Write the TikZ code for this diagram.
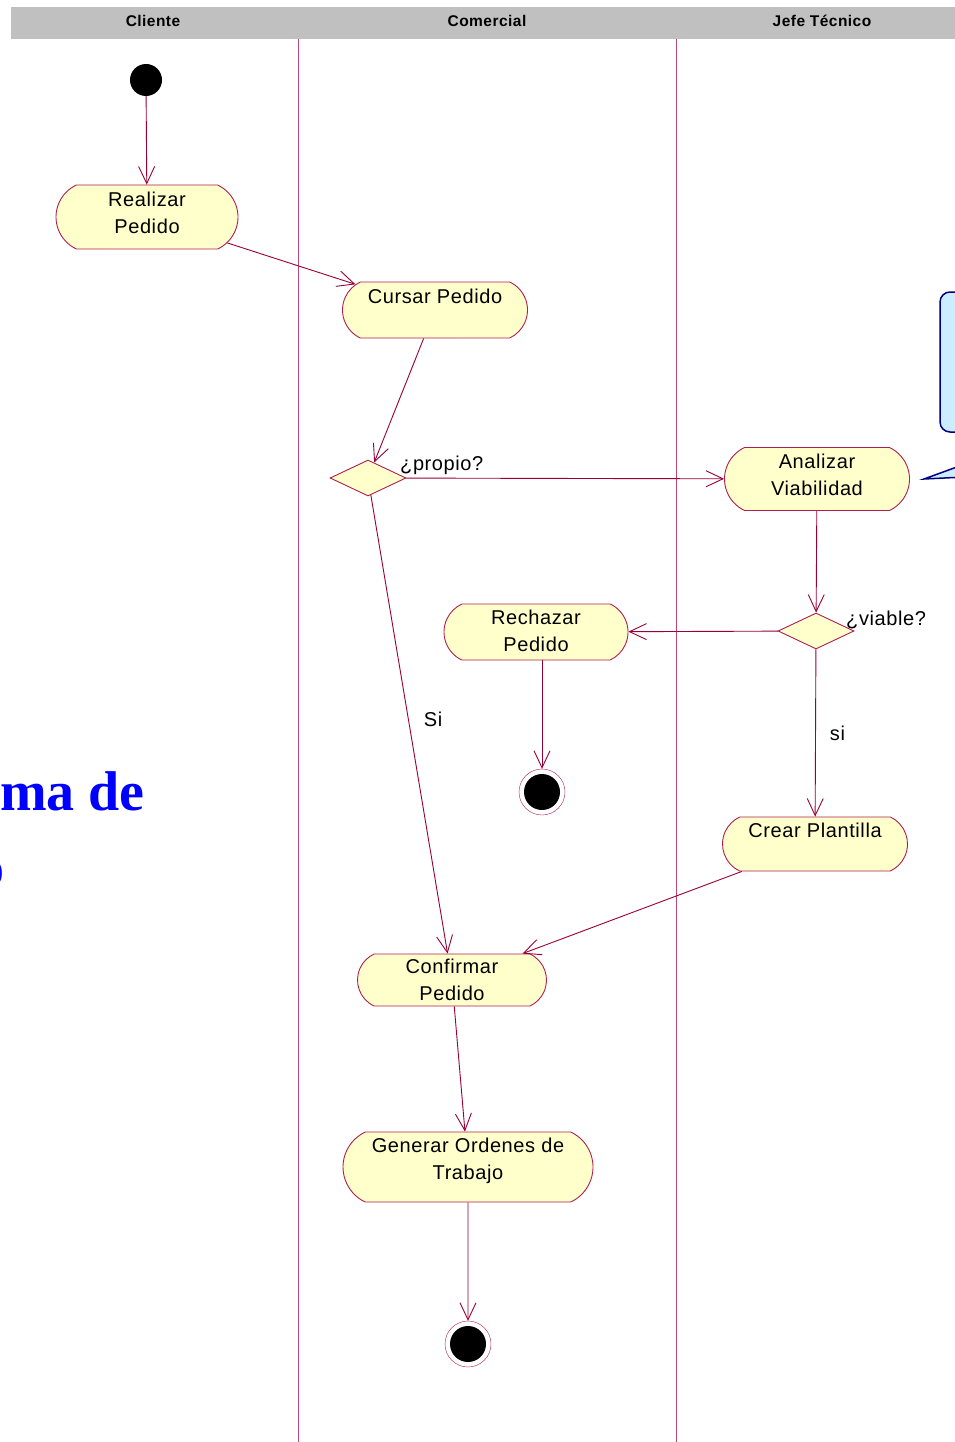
\documentclass[tikz,border=0pt]{standalone}
\usepackage{fontspec}
\setmainfont[LetterSpace=3]{Liberation Sans}
\newfontfamily\titlefont{Liberation Serif}
\usetikzlibrary{shapes.misc,shapes.geometric,arrows.meta}
\definecolor{rose}{RGB}{153,0,51}
\definecolor{actdraw}{RGB}{175,30,80}
\definecolor{lanecol}{RGB}{190,70,120}
\definecolor{actfill}{RGB}{255,255,204}
\definecolor{notefill}{RGB}{204,236,255}
\definecolor{notedraw}{RGB}{0,0,128}
\definecolor{headgray}{RGB}{192,192,192}

\begin{document}
\begin{tikzpicture}[x=1pt, y=-1pt,
  act/.style = {draw=actdraw, line width=0.9pt, fill=actfill, rounded rectangle, rounded rectangle arc length=130, inner sep=0pt, align=center, text depth=8pt, font=\fontsize{20}{27}\selectfont},
  dec/.style = {draw=actdraw, line width=0.9pt, fill=actfill, diamond, inner sep=0pt, minimum width=76pt, minimum height=36pt},
  inicio/.style = {circle, fill=black, minimum size=32pt, inner sep=0pt},
  fin/.style = {circle, draw=actdraw, fill=white, minimum size=46pt, inner sep=0pt, path picture={\fill[black] (path picture bounding box.center) circle[radius=18pt];}},
  lbl/.style = {font=\fontsize{20}{24}\selectfont, inner sep=0pt},
  head/.style = {font=\bfseries\fontsize{15.5}{18}\selectfont, inner sep=0pt},
  flow/.style = {draw=rose, line width=0.9pt, -{Straight Barb[length=17pt,width=16pt]}},
  lanes/.style = {draw=lanecol, line width=0.9pt}]
\useasboundingbox (0,0) rectangle (955,1442);

% calles
\fill[headgray] (11,7) rectangle (955,39);
\node[head] (cliente) at (153,21) {Cliente};
\node[head] (comercial) at (487,21) {Comercial};
\node[head] (jefe) at (822,21) {Jefe Técnico};
\draw[lanes] (298,39) -- (298,1442);
\draw[lanes] (676,39) -- (676,1442);

% nota y titulo de fondo
\draw[notedraw, fill=notefill, line width=1.5pt, rounded corners=10pt] (940,292) rectangle (990,432);
\draw[notedraw, fill=notefill, line width=1.5pt] (965,464) -- (924,479) -- (965,477) -- cycle;
\node[anchor=base west, inner sep=0pt, text=blue, font=\titlefont\bfseries\fontsize{56}{60}\selectfont] (titulo) at (0,810) {ma de};
\node[anchor=base west, inner sep=0pt, text=blue, font=\titlefont\bfseries\fontsize{56}{60}\selectfont] (titulo2) at (-24,886) {o};

\node[inicio] (ini) at (146,80) {};
\node[act, minimum width=182pt, minimum height=64pt] (realizar) at (147,217) {Realizar\\Pedido};
\node[act, minimum width=185pt, minimum height=56pt, text depth=0pt] (cursar) at (435,310) {Cursar Pedido\\\mbox{}};
\node[dec] (propio) at (368,478) {};
\node[lbl, anchor=west] (propiolbl) at (400,465) {¿propio?};
\node[act, minimum width=185pt, minimum height=63pt] (analizar) at (817,479) {Analizar\\Viabilidad};
\node[dec] (viable) at (816,631) {};
\node[lbl, anchor=west] (viablelbl) at (846,620) {¿viable?};
\node[act, minimum width=184pt, minimum height=56pt, text depth=2pt] (rechazar) at (536,632) {Rechazar\\Pedido};
\node[fin] (fin1) at (542,792) {};
\node[act, minimum width=185pt, minimum height=54pt, text depth=0pt] (crear) at (815,844) {Crear Plantilla\\\mbox{}};
\node[act, minimum width=189pt, minimum height=52pt, text depth=0pt] (confirmar) at (452,980) {Confirmar\\Pedido};
\node[act, minimum width=250pt, minimum height=70pt, text depth=16pt] (generar) at (468,1167) {Generar Ordenes de\\Trabajo};
\node[fin] (fin2) at (468,1344) {};

\draw[flow] (ini) -- (realizar);
\draw[flow] (realizar) -- (cursar);
\draw[flow] (cursar) -- (propio);
\draw[flow] (propio) -- (analizar);
\draw[flow] (propio) -- node[lbl, pos=.49, right=15pt] {Si} (confirmar);
\draw[flow] (analizar) -- (viable);
\draw[flow] (viable) -- (rechazar);
\draw[flow] (viable) -- node[lbl, midway, right=14pt] {si} (crear);
\draw[flow] (rechazar.south -| fin1.north) -- (fin1);
\draw[flow] (crear) -- (confirmar);
\draw[flow] (confirmar) -- (generar);
\draw[flow] (generar) -- (fin2);

\end{tikzpicture}
\end{document}
